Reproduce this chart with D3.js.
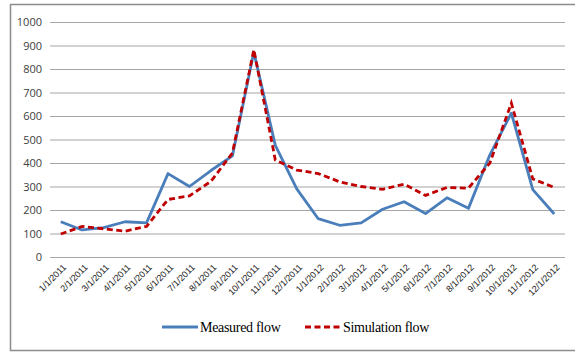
<!DOCTYPE html>
<html>
<head>
<meta charset="utf-8">
<script src="https://cdn.jsdelivr.net/npm/d3@7"></script>
<style>
  html, body { margin: 0; padding: 0; background: #fff; }
  svg { display: block; }
</style>
</head>
<body>
<script>
// Monthly flow, measured vs simulated
const months = ["1/1/2011","2/1/2011","3/1/2011","4/1/2011","5/1/2011","6/1/2011","7/1/2011","8/1/2011","9/1/2011","10/1/2011","11/1/2011","12/1/2011",
                "1/1/2012","2/1/2012","3/1/2012","4/1/2012","5/1/2012","6/1/2012","7/1/2012","8/1/2012","9/1/2012","10/1/2012","11/1/2012","12/1/2012"];
const measured = [150,115,125,150,145,355,300,368,430,872,475,290,163,135,145,203,235,185,252,207,435,612,287,183];
const simulated = [98,130,120,110,130,245,260,322,442,882,413,370,355,320,300,288,310,262,296,293,400,655,332,296];
const yTicks = [0,100,200,300,400,500,600,700,800,900,1000];

const W = 575, H = 353;
const svg = d3.select("body").append("svg").attr("width", W).attr("height", H);

// chart border
svg.append("rect")
  .attr("x", 10.5).attr("y", 4.5).attr("width", W + 10).attr("height", 346)
  .attr("fill", "none").attr("stroke", "#8c8c8c").attr("stroke-width", 1.5);

const plot = { left: 50, right: 565, top: 22, bottom: 257 };

const x = d3.scaleBand().domain(months).range([plot.left, plot.right]);
const y = d3.scaleLinear().domain([0, 1000]).range([plot.bottom, plot.top]);
const cx = d => x(d) + x.bandwidth() / 2;

// horizontal gridlines + y labels
const yAxis = d3.axisLeft(y).tickValues(yTicks).tickFormat(d3.format("d"))
  .tickSize(-(plot.right - plot.left)).tickPadding(8);
const gy = svg.append("g").attr("transform", `translate(${plot.left},0)`).call(yAxis);
gy.select(".domain").remove();
gy.selectAll(".tick line").attr("stroke", "#a6a6a6").attr("stroke-width", 1.2);
gy.selectAll(".tick text")
  .attr("font-family", "'Open Sans', 'Liberation Sans', sans-serif")
  .attr("font-size", 11).attr("fill", "#404040");

// x labels, rotated
const xAxis = d3.axisBottom(x).tickSize(0).tickPadding(0);
const gx = svg.append("g").attr("transform", `translate(0,${plot.bottom})`).call(xAxis);
gx.select(".domain").remove();
gx.selectAll(".tick text")
  .attr("font-family", "'Liberation Sans', sans-serif")
  .attr("font-size", 9).attr("fill", "#1a1a1a")
  .attr("text-anchor", "end")
  .attr("dy", 0)
  .attr("transform", "translate(6,11) rotate(-45)");

const line = d3.line().x((d, i) => cx(months[i])).y(d => y(d));

svg.append("path").datum(measured)
  .attr("d", line).attr("fill", "none")
  .attr("stroke", "#4a7ebb").attr("stroke-width", 2.8).attr("stroke-linejoin", "round");

svg.append("path").datum(simulated)
  .attr("d", line).attr("fill", "none")
  .attr("stroke", "#c00000").attr("stroke-width", 2.8)
  .attr("stroke-dasharray", "6,3.5");

// legend
const legend = svg.append("g")
  .attr("font-family", "'Liberation Serif', 'Times New Roman', serif")
  .attr("font-size", 14).attr("fill", "#000");
const items = [
  { label: "Measured flow", color: "#4a7ebb", dash: null, x: 162 },
  { label: "Simulation flow", color: "#c00000", dash: "6,3.5", x: 305 }
];
items.forEach(it => {
  legend.append("line")
    .attr("x1", it.x).attr("x2", it.x + 36).attr("y1", 327).attr("y2", 327)
    .attr("stroke", it.color).attr("stroke-width", 2.8)
    .attr("stroke-dasharray", it.dash);
  legend.append("text")
    .attr("x", it.x + 38).attr("y", 332)
    .attr("letter-spacing", -0.3)
    .text(it.label);
});
</script>
</body>
</html>
